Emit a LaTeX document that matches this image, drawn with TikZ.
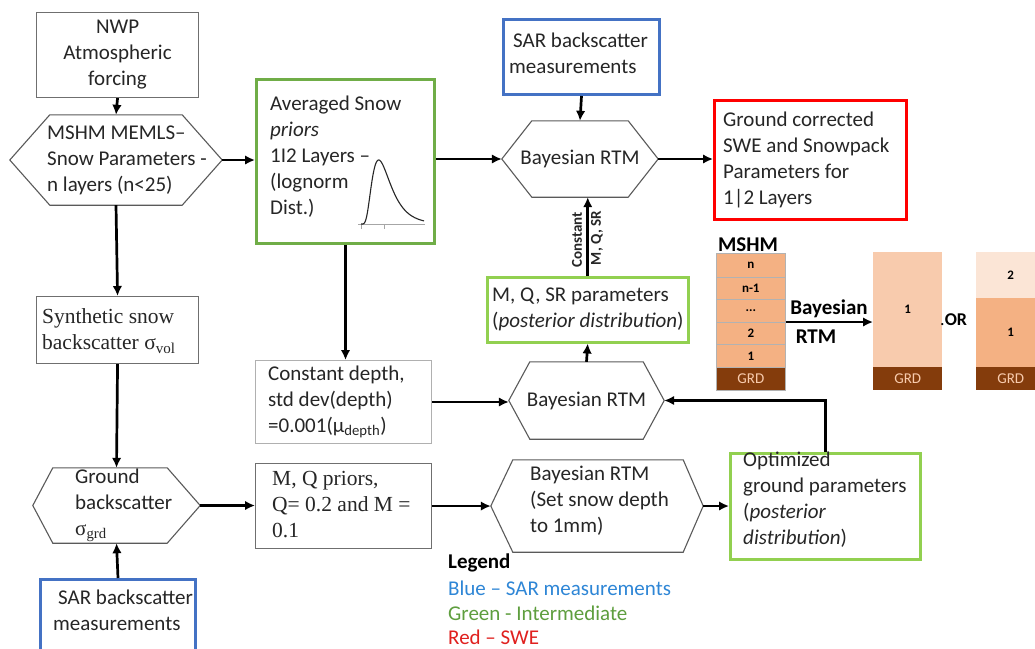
\documentclass[tikz,border=0pt]{standalone}
\usepackage{fontspec}
\setmainfont{Carlito}
\newfontfamily\serifface{Liberation Serif}
\usetikzlibrary{arrows.meta}
\definecolor{txt}{HTML}{262626}
\definecolor{boxgray}{HTML}{6F6F6F}
\definecolor{lightgrayb}{HTML}{B0B0B0}
\definecolor{hexgray}{HTML}{5A5A5A}
\definecolor{sarblue}{HTML}{4472C4}
\definecolor{dgreen}{HTML}{70AD47}
\definecolor{lgreen}{HTML}{92D050}
\definecolor{swered}{HTML}{FF0000}
\definecolor{legblue}{HTML}{2E86D6}
\definecolor{leggreen}{HTML}{5E9E3E}
\definecolor{legred}{HTML}{E0201E}
\definecolor{layer}{HTML}{F4B183}
\definecolor{layerlt}{HTML}{F8CBAD}
\definecolor{layervlt}{HTML}{FBE5D6}
\definecolor{grd}{HTML}{843C0C}
\newcommand\hexdraw[3]{\draw[hexline] (#1.west) -- ([xshift=#2]#1.north west) -- ([xshift=-#3]#1.north east) -- (#1.east) -- ([xshift=-#3]#1.south east) -- ([xshift=#2]#1.south west) -- cycle;}
\begin{document}
\begin{tikzpicture}[x=1pt,y=-1pt,
  every node/.style={font=\fontsize{21pt}{26pt}\selectfont, text=txt, inner sep=0pt},
  rbox/.style={draw=boxgray, line width=1.1pt, anchor=north west},
  bluebox/.style={draw=sarblue, line width=3pt, anchor=north west},
  dgbox/.style={draw=dgreen, line width=3pt, anchor=north west},
  lgbox/.style={draw=lgreen, line width=2.5pt, anchor=north west},
  redbox/.style={draw=swered, line width=3pt, anchor=north west},
  hexline/.style={draw=hexgray, line width=1.1pt},
  txtl/.style={anchor=west, align=left},
  serif/.style={font=\serifface\fontsize{21.5pt}{26pt}\selectfont},
  arr/.style={line width=2.7pt, draw=black, -{Latex[length=10pt,width=9.5pt]}},
  lyr/.style={draw=gray!60, line width=0.6pt, anchor=north west, minimum width=69pt, font=\bfseries\fontsize{13pt}{13pt}\selectfont, text=black},
  col/.style={anchor=north west, minimum width=69pt, font=\bfseries\fontsize{13pt}{13pt}\selectfont, text=black},
  grdbox/.style={anchor=north west, fill=grd, minimum width=69pt, minimum height=23pt, font=\fontsize{15pt}{15pt}\selectfont, text=layerlt},
  rotlbl/.style={rotate=90, font=\bfseries\fontsize{15pt}{15pt}\selectfont, text=txt}
]
\clip (0,0) rectangle (1035,648);
\fill[white] (0,0) rectangle (1035,648);

% ---------- left column ----------
\node[rbox, minimum width=162pt, minimum height=85pt] (nwp) at (36,12) {};
\node[align=center] (nwpT) at (nwp.center) {NWP\\Atmospheric\\forcing};

\node[minimum width=212pt, minimum height=90pt] (mshm) at (116,160) {};
\hexdraw{mshm}{40pt}{40pt}
\node[txtl] (mshmT) at (47,160) {MSHM MEMLS–\\Snow Parameters -\\n layers (n<25)};

\node[rbox, minimum width=162pt, minimum height=67pt] (syn) at (36,296) {};
\node[txtl, serif] (synT) at (42,331) {Synthetic snow\\backscatter σ\textsubscript{vol}};

\node[minimum width=167pt, minimum height=75pt] (gnd) at (116.5,505.5) {};
\hexdraw{gnd}{20pt}{33pt}
\node[txtl] (gndT) at (75,505) {Ground\\backscatter\\{\serifface σ\textsubscript{grd}}};

\node[bluebox, minimum width=155pt, minimum height=90pt] (sar2) at (39,578) {};
\node[txtl] (sar2T) at (53,610) {\hspace*{5pt}SAR backscatter\\measurements};

% ---------- second column ----------
\node[dgbox, minimum width=178pt, minimum height=164pt] (avg) at (255,78) {};
\node[txtl] (avgT) at (270,157) {Averaged Snow\\\textit{priors}\\1I2 Layers –\\(lognorm\\Dist.)};
\draw[gray!70, line width=0.8pt] (358,224.5) -- (425,224.5);
\draw[gray!70, line width=0.6pt] (361,224.5) -- (361,229) (384,224.5) -- (384,229);
\draw[black!85, line width=1.1pt] plot[domain=0.05:2.67, samples=80, smooth] ({360+24*\x},{224-56.5*exp(-((ln(\x))^2)/0.5)/\x});

\node[draw=lightgrayb, line width=1pt, anchor=north west, minimum width=176pt, minimum height=83pt] (cdep) at (255,360) {};
\node[txtl] (cdepT) at (268,402) {Constant depth,\\std dev(depth)\\=0.001(µ\textsubscript{depth})};

\node[rbox, minimum width=176pt, minimum height=85pt] (mq) at (255,463) {};
\node[txtl, serif] (mqT) at (272,505) {M, Q priors,\\Q= 0.2 and M =\\0.1};

% ---------- third column ----------
\node[bluebox, minimum width=156pt, minimum height=75pt] (sar1) at (502,18) {};
\node[txtl] (sar1T) at (509,53) {\hspace*{4pt}SAR backscatter\\measurements};

\node[minimum width=156pt, minimum height=76pt] (bay1) at (580,159) {Bayesian RTM};
\hexdraw{bay1}{30pt}{30pt}

\node[lgbox, minimum width=201pt, minimum height=65pt] (mqsr) at (486,276) {};
\node[txtl] (mqsrT) at (492,309.5) {M, Q, SR parameters\\(\textit{posterior distribution})};

\node[minimum width=155pt, minimum height=77pt] (bay2) at (586.5,400.5) {Bayesian RTM};
\hexdraw{bay2}{21pt}{21pt}

\node[minimum width=212pt, minimum height=92pt] (bay3) at (597,506) {};
\hexdraw{bay3}{22pt}{20pt}
\node[txtl] (bay3T) at (530,501) {Bayesian RTM\\(Set snow depth\\to 1mm)};

\node[rotlbl] (lblC) at (577,240) {Constant};
\node[rotlbl] (lblM) at (597,238) {M, Q, SR};

% ---------- right column ----------
\node[redbox, minimum width=192pt, minimum height=119pt] (red) at (713,99) {};
\node[txtl] (redT) at (723,160) {Ground corrected\\SWE and Snowpack\\Parameters for\\1|2 Layers};

\node[lgbox, minimum width=190pt, minimum height=106pt] (opt) at (729,452) {};
\node[txtl] (optT) at (743,500) {Optimized\\ground parameters\\(\textit{posterior}\\\textit{distribution})};

% ---------- legend ----------
\node[anchor=west, font=\bfseries\fontsize{21pt}{26pt}\selectfont, text=black] (legT) at (448,563) {Legend};
\node[anchor=west, text=legblue] (legB) at (448,588) {Blue – SAR measurements};
\node[anchor=west, text=leggreen] (legG) at (448,613) {Green - Intermediate};
\node[anchor=west, text=legred] (legR) at (448,637) {Red – SWE};

% ---------- layer graphic ----------
\node[font=\bfseries\fontsize{21pt}{21pt}\selectfont, text=black] (mshmL) at (748,245) {MSHM};
\node[lyr, fill=layer, minimum height=24pt] (ln) at (716,253) {n};
\node[lyr, fill=layer, minimum height=22pt] (ln1) at (716,277) {n-1};
\node[lyr, fill=layer, minimum height=23pt] (ldots) at (716,299) {...};
\node[lyr, fill=layer, minimum height=22pt] (l2) at (716,322) {2};
\node[lyr, fill=layer, minimum height=23pt] (l1) at (716,344) {1};
\node[grdbox, draw=gray!60, line width=0.6pt] (lg) at (716,367) {GRD};

\node[col, fill=layerlt, minimum height=115pt] (m1) at (873,252) {1};
\node[grdbox] (mg) at (873,367) {GRD};

\node[col, fill=layervlt, minimum height=46pt] (r2) at (976,252) {2};
\node[col, fill=layer, minimum height=69pt] (r1) at (976,298) {1};
\node[grdbox] (rg) at (976,367) {GRD};

\node[anchor=west, font=\bfseries\fontsize{18pt}{18pt}\selectfont, text=black] (orT) at (940,320) {\textmd{.}OR};

\draw[arr] (l2.north east) -- (l2.north east -| m1.west);
\node[font=\bfseries\fontsize{21pt}{21pt}\selectfont, text=black] (bayL1) at (829,309) {Bayesian};
\node[font=\bfseries\fontsize{21pt}{21pt}\selectfont, text=black] (bayL2) at (816,337) {RTM};

% ---------- connectors ----------
\draw[arr] (nwp.south) -- (mshm.north);
\draw[arr] (mshm.east) -- (mshm.east -| avg.west);
\draw[arr] (mshm.south) -- (syn.north);
\draw[arr] (syn.south) -- (gnd.north);
\draw[arr] (sar2.north) -- (gnd.south);
\draw[arr] (gnd.east) -- (gnd.east -| mq.west);
\draw[arr] (mq.east) -- (mq.east -| bay3.west);
\draw[arr] (bay3.east) -- (bay3.east -| opt.west);
\draw[arr] (bay1.west -| avg.east) -- (bay1.west);
\draw[arr] (avg.south) -- (avg.south |- cdep.north);
\draw[arr] (cdep.east) -- (cdep.east -| bay2.west);
\draw[arr] (sar1.south) -- (bay1.north);
\draw[arr] (bay1.east) -- (bay1.east -| red.west);
\draw[arr] (bay2.north) -- (mqsr.south);
\draw[arr] (mqsr.north) -- (mqsr.north |- bay1.south);
\draw[arr] (opt.north) |- (bay2.east);
\end{tikzpicture}
\end{document}
